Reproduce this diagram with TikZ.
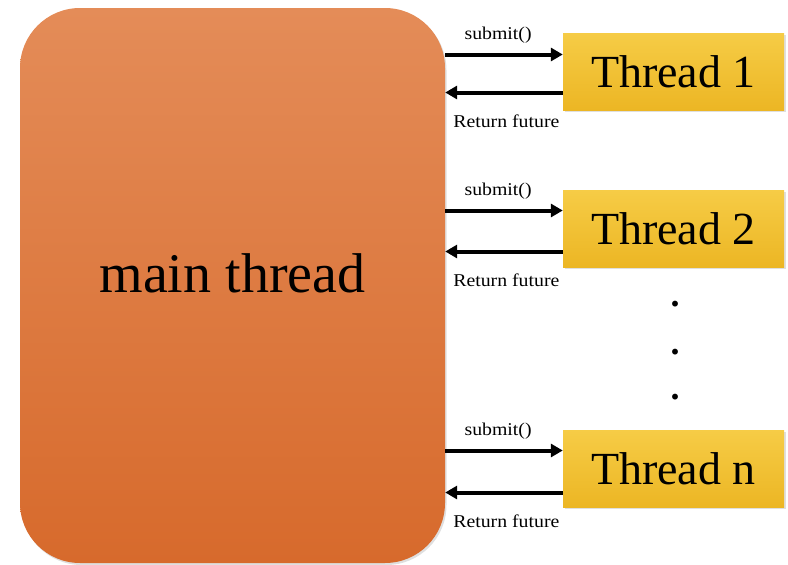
\documentclass[tikz,border=0pt]{standalone}
\usepackage{fontspec}
\setmainfont{Liberation Serif}
\usetikzlibrary{arrows.meta, shadows}
\definecolor{mainTop}{RGB}{228,140,88}
\definecolor{mainBot}{RGB}{215,106,44}
\definecolor{thrTop}{RGB}{246,204,70}
\definecolor{thrBot}{RGB}{236,182,36}
\tikzset{>={Triangle[length=12pt,width=13pt]}}
\tikzset{
  mainbox/.style={rectangle, rounded corners=60pt, minimum width=425pt, minimum height=555pt,
    top color=mainTop, bottom color=mainBot, draw=none,
    drop shadow={opacity=0.25, shadow xshift=1.5pt, shadow yshift=-2pt},
    font=\fontsize{56}{60}\selectfont, text depth=24pt},
  thrbox/.style={rectangle, minimum width=221pt, minimum height=77pt,
    top color=thrTop, bottom color=thrBot, draw=none,
    drop shadow={opacity=0.25, shadow xshift=1.5pt, shadow yshift=-2pt},
    font=\fontsize{46}{50}\selectfont},
  flow/.style={->, line width=4pt},
  lbl/.style={font=\fontsize{18}{20}\selectfont, xscale=1.1, inner sep=0pt},
  dotnode/.style={font=\fontsize{36}{36}\selectfont\bfseries, inner sep=0pt}
}

\begin{document}
\begin{tikzpicture}[x=1pt, y=-1pt]
\useasboundingbox (0,0) rectangle (788,565);
\node[mainbox] (main) at (232.5,285.5) {main thread};
\node[thrbox] (t1) at (673.5,71.5) {Thread 1};
\node[thrbox] (t2) at (673.5,228.5) {Thread 2};
\node[thrbox] (tn) at (673.5,468.5) {Thread n};
\node[dotnode] (d1) at (675,304) {.};
\node[dotnode] (d2) at (675,352) {.};
\node[dotnode] (d3) at (675,397) {.};
\draw[flow] ([yshift=17pt]t1.west -| main.east) -- ([yshift=17pt]t1.west)
  node[lbl, pos=0.45, above=9pt] (s1) {submit()};
\draw[flow] ([yshift=-21pt]t1.west) -- ([yshift=-21pt]t1.west -| main.east)
  node[lbl, pos=0.48, below=20pt] (r1) {Return future};
\draw[flow] ([yshift=18pt]t2.west -| main.east) -- ([yshift=18pt]t2.west)
  node[lbl, pos=0.45, above=9pt] (s2) {submit()};
\draw[flow] ([yshift=-23pt]t2.west) -- ([yshift=-23pt]t2.west -| main.east)
  node[lbl, pos=0.48, below=20pt] (r2) {Return future};
\draw[flow] ([yshift=18pt]tn.west -| main.east) -- ([yshift=18pt]tn.west)
  node[lbl, pos=0.45, above=9pt] (sn) {submit()};
\draw[flow] ([yshift=-24pt]tn.west) -- ([yshift=-24pt]tn.west -| main.east)
  node[lbl, pos=0.48, below=20pt] (rn) {Return future};
\end{tikzpicture}
\end{document}
